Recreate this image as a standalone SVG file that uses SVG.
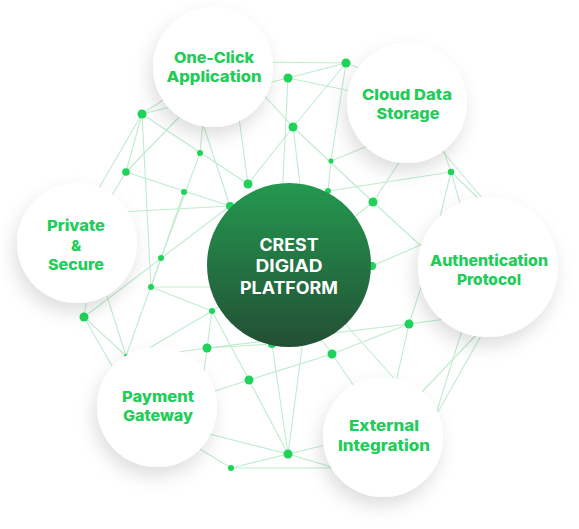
<svg xmlns="http://www.w3.org/2000/svg" width="579" height="529" viewBox="0 0 579 529">
<defs>
<style>
.ln{stroke:#bfecce;stroke-width:1.1;fill:none}
.dt{fill:#1fd35a}
.bub{fill:#ffffff}
.lb{font-family:Inter,"Open Sans","Liberation Sans",sans-serif;font-weight:800;font-size:15px;fill:#21cc58;text-anchor:middle}
.ct{font-family:Inter,"Open Sans","Liberation Sans",sans-serif;font-weight:700;font-size:17px;fill:#ffffff;text-anchor:middle}
</style>
<filter id="sh" x="-40%" y="-40%" width="180%" height="190%">
<feDropShadow dx="-3" dy="9" stdDeviation="9" flood-color="#000" flood-opacity="0.13"/>
</filter>
<linearGradient id="cg" x1="0" y1="0" x2="0" y2="1">
<stop offset="0" stop-color="#23994f"/>
<stop offset="1" stop-color="#234f35"/>
</linearGradient>
</defs>
<rect width="579" height="529" fill="#ffffff"/>
<g id="connectors">
<line class="ln" x1="142" y1="114" x2="288" y2="78"/>
<line class="ln" x1="142" y1="114" x2="213" y2="67"/>
<line class="ln" x1="142" y1="114" x2="60" y2="255"/>
<line class="ln" x1="142" y1="114" x2="126" y2="172"/>
<line class="ln" x1="142" y1="114" x2="151" y2="287"/>
<line class="ln" x1="142" y1="114" x2="248" y2="184"/>
<line class="ln" x1="126" y1="172" x2="230" y2="206"/>
<line class="ln" x1="126" y1="172" x2="220" y2="75"/>
<line class="ln" x1="126" y1="172" x2="100" y2="215"/>
<line class="ln" x1="200" y1="153" x2="161" y2="258"/>
<line class="ln" x1="200" y1="153" x2="205" y2="100"/>
<line class="ln" x1="238" y1="110" x2="248" y2="184"/>
<line class="ln" x1="200" y1="115" x2="230" y2="206"/>
<line class="ln" x1="250" y1="62" x2="346" y2="63"/>
<line class="ln" x1="346" y1="63" x2="288" y2="78"/>
<line class="ln" x1="346" y1="63" x2="293" y2="127"/>
<line class="ln" x1="346" y1="63" x2="331" y2="161"/>
<line class="ln" x1="346" y1="63" x2="400" y2="85"/>
<line class="ln" x1="288" y1="78" x2="370" y2="95"/>
<line class="ln" x1="288" y1="78" x2="282" y2="200"/>
<line class="ln" x1="250" y1="80" x2="293" y2="127"/>
<line class="ln" x1="293" y1="127" x2="373" y2="202"/>
<line class="ln" x1="293" y1="127" x2="302" y2="200"/>
<line class="ln" x1="293" y1="127" x2="248" y2="184"/>
<line class="ln" x1="331" y1="161" x2="375" y2="143"/>
<line class="ln" x1="331" y1="161" x2="328" y2="191"/>
<line class="ln" x1="328" y1="191" x2="451" y2="172"/>
<line class="ln" x1="328" y1="191" x2="285" y2="198"/>
<line class="ln" x1="373" y1="202" x2="402" y2="158"/>
<line class="ln" x1="373" y1="202" x2="420" y2="245"/>
<line class="ln" x1="373" y1="202" x2="320" y2="245"/>
<line class="ln" x1="451" y1="172" x2="440" y2="140"/>
<line class="ln" x1="451" y1="172" x2="438" y2="225"/>
<line class="ln" x1="451" y1="172" x2="462" y2="210"/>
<line class="ln" x1="451" y1="172" x2="480" y2="200"/>
<line class="ln" x1="433" y1="140" x2="482" y2="198"/>
<line class="ln" x1="372" y1="266" x2="430" y2="241"/>
<line class="ln" x1="372" y1="266" x2="320" y2="280"/>
<line class="ln" x1="409" y1="324" x2="445" y2="319"/>
<line class="ln" x1="409" y1="324" x2="424" y2="278"/>
<line class="ln" x1="207" y1="348" x2="409" y2="324"/>
<line class="ln" x1="409" y1="324" x2="332" y2="354"/>
<line class="ln" x1="332" y1="354" x2="249" y2="380"/>
<line class="ln" x1="249" y1="380" x2="212" y2="392"/>
<line class="ln" x1="409" y1="324" x2="396" y2="382"/>
<line class="ln" x1="332" y1="354" x2="354" y2="386"/>
<line class="ln" x1="332" y1="354" x2="318" y2="335"/>
<line class="ln" x1="340" y1="318" x2="400" y2="385"/>
<line class="ln" x1="477" y1="334" x2="420" y2="394"/>
<line class="ln" x1="482" y1="334" x2="438" y2="412"/>
<line class="ln" x1="462" y1="330" x2="436" y2="414"/>
<line class="ln" x1="303" y1="340" x2="288" y2="454"/>
<line class="ln" x1="272" y1="344" x2="288" y2="454"/>
<line class="ln" x1="288" y1="454" x2="330" y2="444"/>
<line class="ln" x1="288" y1="454" x2="335" y2="468"/>
<line class="ln" x1="231" y1="468" x2="340" y2="468"/>
<line class="ln" x1="231" y1="468" x2="288" y2="454"/>
<line class="ln" x1="231" y1="468" x2="195" y2="446"/>
<line class="ln" x1="288" y1="454" x2="205" y2="433"/>
<line class="ln" x1="249" y1="380" x2="288" y2="454"/>
<line class="ln" x1="207" y1="348" x2="178" y2="352"/>
<line class="ln" x1="207" y1="348" x2="203" y2="380"/>
<line class="ln" x1="207" y1="348" x2="212" y2="311"/>
<line class="ln" x1="207" y1="348" x2="272" y2="344"/>
<line class="ln" x1="212" y1="311" x2="249" y2="380"/>
<line class="ln" x1="212" y1="311" x2="146" y2="350"/>
<line class="ln" x1="212" y1="311" x2="151" y2="287"/>
<line class="ln" x1="212" y1="311" x2="245" y2="290"/>
<line class="ln" x1="151" y1="287" x2="215" y2="287"/>
<line class="ln" x1="151" y1="287" x2="184" y2="192"/>
<line class="ln" x1="84" y1="317" x2="230" y2="206"/>
<line class="ln" x1="84" y1="317" x2="126" y2="356"/>
<line class="ln" x1="84" y1="317" x2="112" y2="366"/>
<line class="ln" x1="84" y1="317" x2="88" y2="292"/>
<line class="ln" x1="126" y1="356" x2="161" y2="258"/>
<line class="ln" x1="126" y1="356" x2="107" y2="296"/>
<line class="ln" x1="120" y1="212" x2="230" y2="206"/>
</g>
<g id="dots">
<circle class="dt" cx="142" cy="114" r="4.5"/>
<circle class="dt" cx="288" cy="78" r="4.5"/>
<circle class="dt" cx="346" cy="63" r="4.5"/>
<circle class="dt" cx="200" cy="153" r="3"/>
<circle class="dt" cx="126" cy="172" r="3.8"/>
<circle class="dt" cx="293" cy="127" r="4.5"/>
<circle class="dt" cx="331" cy="161" r="2.5"/>
<circle class="dt" cx="184" cy="192" r="3"/>
<circle class="dt" cx="248" cy="184" r="4.5"/>
<circle class="dt" cx="230" cy="206" r="4"/>
<circle class="dt" cx="328" cy="191" r="3"/>
<circle class="dt" cx="373" cy="202" r="4.5"/>
<circle class="dt" cx="451" cy="172" r="3.2"/>
<circle class="dt" cx="161" cy="258" r="3"/>
<circle class="dt" cx="151" cy="287" r="3"/>
<circle class="dt" cx="84" cy="317" r="4.5"/>
<circle class="dt" cx="212" cy="311" r="3"/>
<circle class="dt" cx="207" cy="348" r="4.5"/>
<circle class="dt" cx="126" cy="356" r="2"/>
<circle class="dt" cx="272" cy="344" r="4"/>
<circle class="dt" cx="249" cy="380" r="4.5"/>
<circle class="dt" cx="332" cy="354" r="4.5"/>
<circle class="dt" cx="409" cy="324" r="4.5"/>
<circle class="dt" cx="372" cy="266" r="4"/>
<circle class="dt" cx="288" cy="454" r="4.5"/>
<circle class="dt" cx="231" cy="468" r="3"/>
</g>
<g id="node-oneclick">
<circle class="bub" cx="213" cy="67" r="60" filter="url(#sh)"/>
<text class="lb" x="214" y="63" textLength="80" lengthAdjust="spacingAndGlyphs">One-Click</text>
<text class="lb" x="214" y="82" textLength="95" lengthAdjust="spacingAndGlyphs">Application</text>
</g>
<g id="node-cloud">
<circle class="bub" cx="407" cy="103" r="60" filter="url(#sh)"/>
<text class="lb" x="407" y="100" textLength="90" lengthAdjust="spacingAndGlyphs">Cloud Data</text>
<text class="lb" x="408" y="119" textLength="63" lengthAdjust="spacingAndGlyphs">Storage</text>
</g>
<g id="node-private">
<circle class="bub" cx="77" cy="243" r="60" filter="url(#sh)"/>
<text class="lb" x="76" y="231" textLength="58" lengthAdjust="spacingAndGlyphs">Private</text>
<text class="lb" x="76" y="251">&amp;</text>
<text class="lb" x="76" y="270" textLength="56" lengthAdjust="spacingAndGlyphs">Secure</text>
</g>
<g id="node-auth">
<circle class="bub" cx="488" cy="267" r="70" filter="url(#sh)"/>
<text class="lb" x="489" y="266" textLength="118" lengthAdjust="spacingAndGlyphs">Authentication</text>
<text class="lb" x="489" y="285" textLength="64" lengthAdjust="spacingAndGlyphs">Protocol</text>
</g>
<g id="node-payment">
<circle class="bub" cx="157" cy="407" r="60" filter="url(#sh)"/>
<text class="lb" x="158" y="402" textLength="72" lengthAdjust="spacingAndGlyphs">Payment</text>
<text class="lb" x="158" y="421" textLength="70" lengthAdjust="spacingAndGlyphs">Gateway</text>
</g>
<g id="node-external">
<circle class="bub" cx="383" cy="437" r="60" filter="url(#sh)"/>
<text class="lb" x="384" y="431" textLength="70" lengthAdjust="spacingAndGlyphs">External</text>
<text class="lb" x="384" y="451" textLength="92" lengthAdjust="spacingAndGlyphs">Integration</text>
</g>
<g id="node-center">
<circle cx="289" cy="265" r="82" fill="url(#cg)"/>
<text class="ct" x="289" y="251" textLength="59" lengthAdjust="spacingAndGlyphs">CREST</text>
<text class="ct" x="289" y="272" textLength="67" lengthAdjust="spacingAndGlyphs">DIGIAD</text>
<text class="ct" x="289" y="294" textLength="98" lengthAdjust="spacingAndGlyphs">PLATFORM</text>
</g>
</svg>
